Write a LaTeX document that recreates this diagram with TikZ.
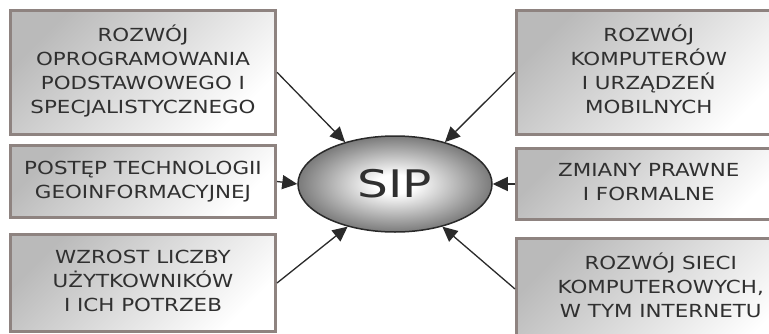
\documentclass[tikz,border=0pt]{standalone}
\usepackage{fontspec}
\usepackage{graphicx}
\setmainfont{DejaVu Sans}
\usetikzlibrary{arrows.meta,shapes.geometric}

\definecolor{edgebrown}{HTML}{8E8380}
\definecolor{inkgray}{HTML}{303030}
\definecolor{wire}{HTML}{2A2A2A}

% soft white core fading to grey at the rim of the central ellipse
\pgfdeclareradialshading{sipglow}{\pgfpoint{0bp}{0bp}}{%
  color(0bp)=(white); color(5bp)=(white);
  color(25bp)=(black!52); color(50bp)=(black!52)}

% centred, horizontally widened block of lines
\newcommand\widelines[1]{\scalebox{1.19}[1]{\begin{tabular}{@{}c@{}}#1\end{tabular}}}

\begin{document}
\begin{tikzpicture}[x=1pt,y=-1pt,
  factor/.style={draw=edgebrown, line width=3pt, rectangle,
    top color=black!27, bottom color=white, shading angle=45,
    text=inkgray, inner sep=0pt,
    font=\fontsize{18}{24}\selectfont},
  core/.style={ellipse, draw=wire, line width=1.5pt, shading=sipglow,
    inner sep=0pt, text=inkgray, font=\fontsize{38}{40}\selectfont},
  arr/.style={draw=wire, line width=1.3pt,
    -{Triangle[length=15pt,width=14pt]}}]

\useasboundingbox (0,0) rectangle (769,333);
\clip (0,0) rectangle (769,333);
\fill[white] (0,0) rectangle (769,333);

% left column
\node[factor, minimum width=265pt, minimum height=123.5pt] (b1) at (143,72.25)
  {\widelines{ROZWÓJ\\OPROGRAMOWANIA\\PODSTAWOWEGO I\\SPECJALISTYCZNEGO}};
\node[factor, minimum width=265pt, minimum height=72pt] (b2) at (143,181.5)
  {\widelines{POSTĘP TECHNOLOGII\\GEOINFORMACYJNEJ}};
\node[factor, minimum width=265pt, minimum height=97pt] (b3) at (143,283)
  {\widelines{WZROST LICZBY\\UŻYTKOWNIKÓW\\I ICH POTRZEB}};

% right column
\node[factor, minimum width=264.5pt, minimum height=123.5pt] (b4) at (648.75,72.25)
  {\widelines{ROZWÓJ\\KOMPUTERÓW\\I URZĄDZEŃ\\MOBILNYCH}};
\node[factor, minimum width=264.5pt, minimum height=71pt] (b5) at (648.75,184)
  {\widelines{ZMIANY PRAWNE\\I FORMALNE}};
\node[factor, minimum width=288.5pt, minimum height=102pt] (b6) at (660.75,289)
  {\widelines{ROZWÓJ SIECI\\KOMPUTEROWYCH,\\W TYM INTERNETU}};

% centre
\node[core, minimum width=194pt, minimum height=96pt] (sip) at (395,184)
  {\scalebox{1.28}[1]{SIP}};

% influences pointing at the centre
\draw[arr] (b1.east) -- (sip.140);
\draw[arr] (b2.east) -- (sip.west);
\draw[arr] (b3.east) -- (sip.222);
\draw[arr] (b4.west) -- (sip.40);
\draw[arr] (b5.west) -- (sip.east);
\draw[arr] (b6.west) -- (sip.318);
\end{tikzpicture}
\end{document}
